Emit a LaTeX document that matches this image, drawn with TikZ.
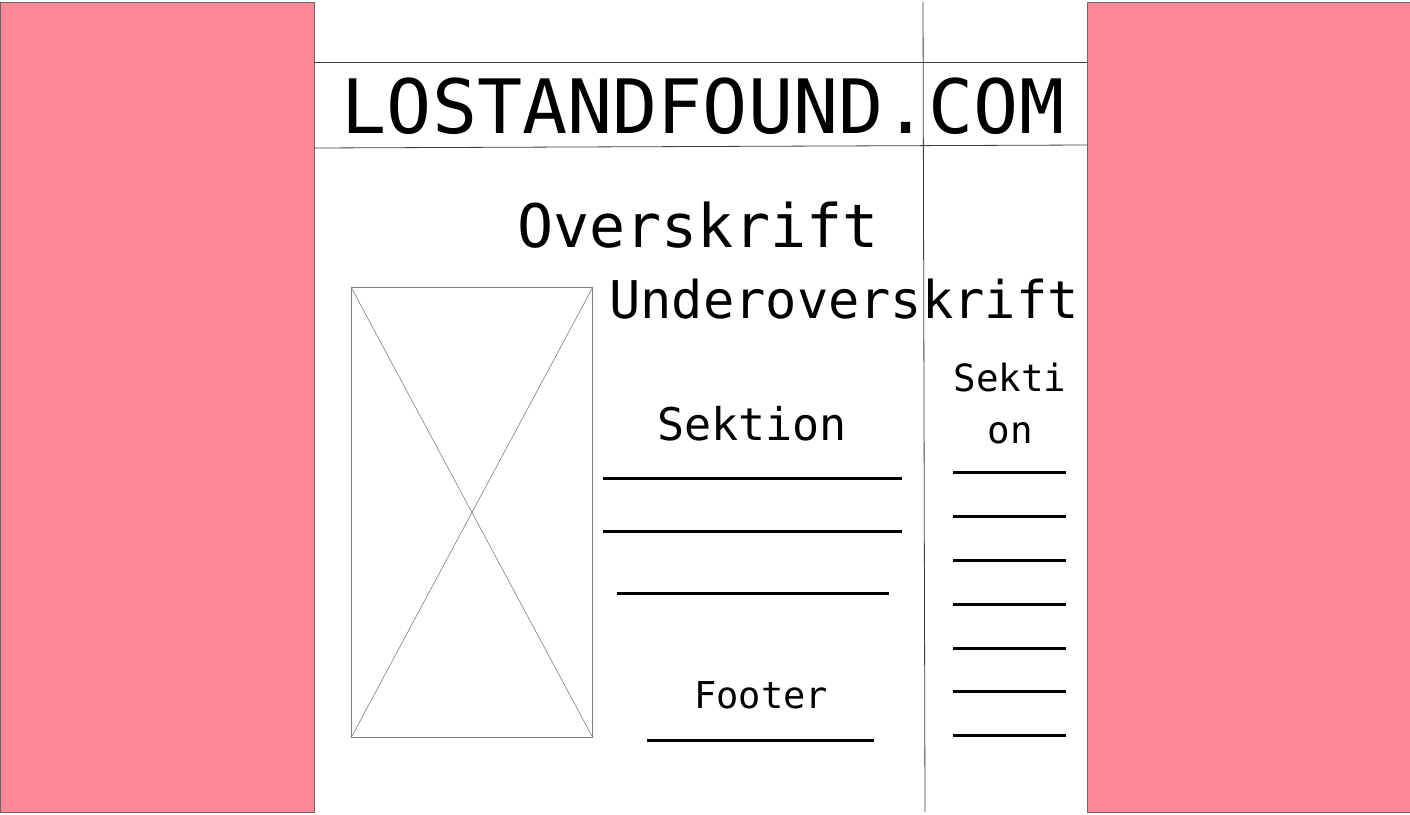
\documentclass[tikz,border=0pt]{standalone}
\usepackage{fontspec}
\setmonofont{DejaVu Sans Mono}
\definecolor{pinkbg}{HTML}{FF8897}
\definecolor{grayline}{HTML}{808080}
\begin{document}
\begin{tikzpicture}[x=1pt,y=-1pt,
  thin line/.style={draw=grayline,line width=0.9pt},
  dark line/.style={draw=black!75,line width=0.8pt},
  bar/.style={draw=black,line width=3pt},
  txt/.style={inner sep=0pt,anchor=base,font=\ttfamily}]
\useasboundingbox (0,0) rectangle (1410,814);
\fill[white] (0,0) rectangle (1410,814);
% side panels
\filldraw[fill=pinkbg,draw=black!60,line width=0.6pt] (0,2) rectangle (314,812);
\filldraw[fill=pinkbg,draw=black!60,line width=0.6pt] (1087,2) rectangle (1410,812);
% structure lines
\coordinate (vt) at (923,2); \coordinate (vb) at (925,812);
\draw[dark line] (vt) -- (vb);
\coordinate (h1l) at (314,62); \coordinate (h1r) at (1087,62);
\draw[dark line] (h1l) -- (h1r);
\coordinate (h2l) at (314,148); \coordinate (h2r) at (1087,145);
\draw[dark line] (h2l) -- (h2r);
% title
\node[txt,font=\ttfamily\fontsize{75}{75}\selectfont] (title) at (703,133) {LOSTANDFOUND.COM};
\node[txt,font=\ttfamily\fontsize{60}{60}\selectfont] (over) at (698,247) {Overskrift};
\node[txt,font=\ttfamily\fontsize{52}{52}\selectfont] (under) at (844,318) {Underoverskrift};
% image placeholder
\node[thin line,draw,minimum width=241pt,minimum height=450pt,inner sep=0pt,anchor=north west] (img) at (351,287) {};
\draw[thin line,line width=0.6pt] (img.north west) -- (img.south east);
\draw[thin line,line width=0.6pt] (img.north east) -- (img.south west);
% middle section
\node[txt,font=\ttfamily\fontsize{45}{45}\selectfont] (sek) at (752,440) {Sektion};
\coordinate (m1a) at (603,478); \coordinate (m1b) at (902,478);
\coordinate (m2a) at (603,531); \coordinate (m2b) at (902,531);
\coordinate (m3a) at (617,593); \coordinate (m3b) at (889,593);
\draw[bar] (m1a) -- (m1b);
\draw[bar] (m2a) -- (m2b);
\draw[bar] (m3a) -- (m3b);
\node[txt,font=\ttfamily\fontsize{37}{37}\selectfont] (foot) at (761,708) {Footer};
\coordinate (fa) at (647,740); \coordinate (fb) at (874,740);
\draw[bar] (fa) -- (fb);
% right section
\node[txt,font=\ttfamily\fontsize{37.5}{37.5}\selectfont] (rs1) at (1010,391) {Sekti};
\node[txt,font=\ttfamily\fontsize{37.5}{37.5}\selectfont] (rs2) at (1010,443) {on};
\foreach \yy [count=\i] in {472,516,560,604,648,691,735} {
  \coordinate (ra\i) at (953,\yy); \coordinate (rb\i) at (1066,\yy);
  \draw[bar] (ra\i) -- (rb\i);
}
\end{tikzpicture}
\end{document}
